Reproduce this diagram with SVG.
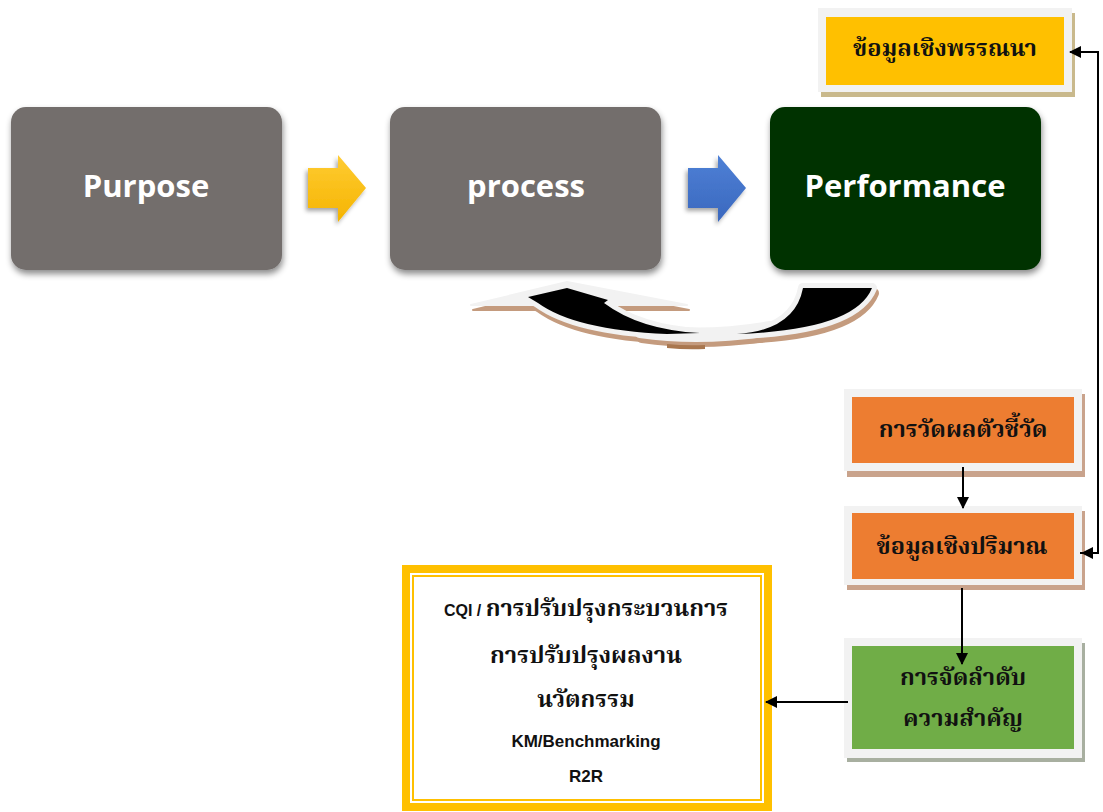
<svg xmlns="http://www.w3.org/2000/svg" width="1103" height="812" viewBox="0 0 1103 812">
  <defs>
    <filter id="softShadow" x="-10%" y="-10%" width="120%" height="130%">
      <feDropShadow dx="1" dy="4" stdDeviation="3" flood-color="#000" flood-opacity="0.45"/>
    </filter>
    <filter id="arrowShadow" x="-30%" y="-30%" width="160%" height="160%">
      <feDropShadow dx="-2" dy="3" stdDeviation="2" flood-color="#000" flood-opacity="0.35"/>
    </filter>
    <linearGradient id="gradYellow" x1="0" y1="0" x2="0" y2="1">
      <stop offset="0" stop-color="#FFCC33"/>
      <stop offset="1" stop-color="#F5B400"/>
    </linearGradient>
    <linearGradient id="gradBlue" x1="0" y1="0" x2="0" y2="1">
      <stop offset="0" stop-color="#4E80D6"/>
      <stop offset="1" stop-color="#3A68BE"/>
    </linearGradient>
    <marker id="arrowHead" viewBox="0 0 12 12" refX="11" refY="6" markerWidth="12" markerHeight="12" markerUnits="userSpaceOnUse" orient="auto">
      <path d="M0,0 L12,6 L0,12 Z" fill="#000"/>
    </marker>
    <!-- pieces of the curved feedback arrow -->
    <path id="fbLeft" d="M528,297 L567,288 L608,300 L604,303 Q640,330 700,333 L667,334 Q575,330 538,303 Z"/>
    <path id="fbRight" d="M803,288 L872,288 Q855,330 737,334 Q795,330 803,288 Z"/>
    <path id="fbWing" d="M471,305 L567,282 L687,305 Z"/>
    <path id="fbBase" d="M640,328 Q700,338 770,326 L770,331 Q700,342 640,333 Z"/>
    <style>
      .bigBox { filter: url(#softShadow); }
      .bigLabel { font-family: 'Open Sans', 'Noto Sans', sans-serif; font-weight: bold; font-size: 31px; fill: #fff; text-anchor: middle; }
      .frame { fill: #F2F2F2; }
      .thai { font-family: 'Noto Serif Thai', 'Noto Sans Thai', 'Liberation Serif', serif; font-weight: bold; font-size: 23.5px; fill: #111; text-anchor: middle; }
      .latin { font-family: 'Liberation Sans', Arial, sans-serif; font-weight: bold; font-size: 17px; fill: #111; text-anchor: middle; }
      .conn { stroke: #000; stroke-width: 2; fill: none; }
    </style>
  </defs>

  <rect width="1103" height="812" fill="#fff"/>

  <!-- main flow boxes -->
  <g id="purpose">
    <rect class="bigBox" x="11" y="107" width="271" height="163" rx="15" fill="#736E6C"/>
    <text class="bigLabel" x="146" y="197">Purpose</text>
  </g>
  <g id="process">
    <rect class="bigBox" x="390" y="107" width="271" height="163" rx="15" fill="#736E6C"/>
    <text class="bigLabel" x="526" y="197">process</text>
  </g>
  <g id="performance">
    <rect class="bigBox" x="770" y="107" width="271" height="163" rx="15" fill="#003300"/>
    <text class="bigLabel" x="905" y="197">Performance</text>
  </g>

  <!-- block arrows between the flow boxes -->
  <g id="arrowYellow" filter="url(#arrowShadow)">
    <path d="M308,168 H338 V155 L366,188 L338,222 V208 H308 Z" fill="url(#gradYellow)"/>
  </g>
  <g id="arrowBlue" filter="url(#arrowShadow)">
    <path d="M688,168 H718 V155 L746,188 L718,222 V208 H688 Z" fill="url(#gradBlue)"/>
  </g>

  <!-- curved feedback arrow from Performance back to process -->
  <g id="feedbackArrow">
    <!-- shadow -->
    <g fill="#C49B7E" stroke="#C49B7E" stroke-width="10" stroke-linejoin="round" transform="translate(2,5)">
      <use href="#fbWing" stroke-width="2"/>
      <use href="#fbLeft"/>
      <use href="#fbRight"/>
      <use href="#fbBase"/>
    </g>
    <path d="M667,344 Q686,346 705,345 L705,349 Q686,350 667,348 Z" fill="#A9774F"/>
    <!-- light outline -->
    <g fill="#F2F2F2" stroke="#F2F2F2" stroke-width="10" stroke-linejoin="round">
      <use href="#fbWing" stroke-width="2"/>
      <use href="#fbLeft"/>
      <use href="#fbRight"/>
      <use href="#fbBase"/>
    </g>
    <!-- black body -->
    <g fill="#000">
      <use href="#fbLeft"/>
      <use href="#fbRight"/>
    </g>
  </g>

  <!-- descriptive data -->
  <g id="descriptiveData">
    <rect x="821" y="13" width="254" height="84" fill="#C9B98C"/>
    <rect class="frame" x="818" y="8" width="254" height="84"/>
    <rect x="826" y="17" width="238" height="68" fill="#FFC000"/>
    <text class="thai" x="945" y="56">ข้อมูลเชิงพรรณนา</text>
  </g>

  <!-- indicator measurement -->
  <g id="indicatorMeasure">
    <rect x="847" y="394" width="238" height="83" fill="#C9A38C"/>
    <rect class="frame" x="844" y="389" width="238" height="82"/>
    <rect x="852" y="397" width="222" height="66" fill="#ED7D31"/>
    <text class="thai" x="963" y="437">การวัดผลตัวชี้วัด</text>
  </g>

  <!-- quantitative data -->
  <g id="quantitativeData">
    <rect x="847" y="511" width="238" height="79" fill="#C9A38C"/>
    <rect class="frame" x="844" y="506" width="238" height="79"/>
    <rect x="852" y="513" width="222" height="66" fill="#ED7D31"/>
    <text class="thai" x="962" y="554">ข้อมูลเชิงปริมาณ</text>
  </g>

  <!-- prioritisation -->
  <g id="prioritise">
    <rect x="847" y="643" width="238" height="119" fill="#A8AFA0"/>
    <rect class="frame" x="844" y="638" width="238" height="120"/>
    <rect x="852" y="646" width="222" height="103" fill="#70AD47"/>
    <text class="thai" x="963" y="685">การจัดลำดับ</text>
    <text class="thai" x="963" y="726">ความสำคัญ</text>
  </g>

  <!-- improvement actions -->
  <g id="improvement">
    <rect x="406" y="569" width="362" height="238" fill="#fff" stroke="#FFC000" stroke-width="8"/>
    <rect x="413" y="576" width="348" height="224" fill="none" stroke="#FFC000" stroke-width="2"/>
    <text x="586" y="616" text-anchor="middle"><tspan class="latin" style="font-size:16px">CQI / </tspan><tspan class="thai">การปรับปรุงกระบวนการ</tspan></text>
    <text class="thai" x="586" y="663">การปรับปรุงผลงาน</text>
    <text class="thai" x="586" y="707">นวัตกรรม</text>
    <text class="latin" x="586" y="747">KM/Benchmarking</text>
    <text class="latin" x="586" y="782">R2R</text>
  </g>

  <!-- connectors -->
  <g id="connectors">
    <polyline class="conn" points="1080,553 1098,553 1098,52 1070,52" marker-end="url(#arrowHead)"/>
    <path class="conn" d="M1098,553 H1082" marker-end="url(#arrowHead)"/>
    <path class="conn" d="M963,467 V508" marker-end="url(#arrowHead)"/>
    <path class="conn" d="M962,588 V664" marker-end="url(#arrowHead)"/>
    <path class="conn" d="M848,702 H766" marker-end="url(#arrowHead)"/>
  </g>
</svg>
